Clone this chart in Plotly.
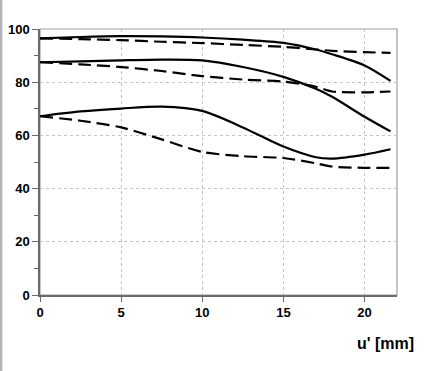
import plotly.graph_objects as go

x_vals = [0, 2.5, 5, 7.5, 10, 12.5, 15, 17, 18, 20, 21.6]

solid_top = [96.5, 97.0, 97.3, 97.2, 96.8, 96.0, 94.8, 92.3, 90.5, 86.3, 80.5]
dashed_top = [96.5, 96.2, 95.8, 95.2, 94.7, 94.0, 93.3, 92.3, 91.8, 91.3, 91.0]
solid_mid = [87.5, 87.8, 88.2, 88.5, 88.2, 85.7, 82.0, 77.5, 74.5, 67.0, 61.5]
dashed_mid = [87.5, 86.7, 85.7, 84.2, 82.3, 81.0, 80.2, 78.3, 76.5, 76.2, 76.5]
solid_low = [67.2, 69.0, 70.1, 70.8, 69.2, 63.0, 55.8, 51.8, 51.3, 52.8, 54.8]
dashed_low = [67.2, 65.5, 63.0, 58.5, 53.8, 52.2, 51.5, 49.5, 48.3, 47.8, 47.8]

x_ticks = [0, 5, 10, 15, 20]
y_ticks = [0, 20, 40, 60, 80, 100]
x_title = "u' [mm]"

FONT = "Arial, Liberation Sans, sans-serif"

fig = go.Figure()
series = [
    (dashed_top, "dash"), (dashed_mid, "dash"), (dashed_low, "dash"),
    (solid_top, "solid"), (solid_mid, "solid"), (solid_low, "solid"),
]
for ys, d in series:
    fig.add_trace(go.Scatter(
        x=x_vals, y=ys, mode="lines",
        line=dict(color="black", width=2.2, dash="13px,6px" if d == "dash" else "solid",
                  shape="spline", smoothing=0.8),
        showlegend=False, hoverinfo="skip"))

fig.update_layout(
    width=438, height=371,
    margin=dict(l=40, r=41, t=29, b=76, pad=0),
    paper_bgcolor="white", plot_bgcolor="white",
    font=dict(family=FONT, size=13, color="black"),
    showlegend=False,
)
fig.update_xaxes(
    range=[0, 22], tickvals=x_ticks, ticktext=[str(v) for v in x_ticks],
    automargin=False,
    showline=True, linecolor="#6a6a6a", linewidth=1.5,
    ticks="outside", ticklen=5, tickcolor="#6a6a6a", tickwidth=1,
    showgrid=True, gridcolor="#c4c4c4", griddash="dot", gridwidth=1,
    zeroline=False,
    tickfont=dict(family=FONT, size=13, color="black", weight="bold"),
)
fig.update_yaxes(
    range=[0, 100], tickvals=y_ticks, ticktext=[str(v) for v in y_ticks],
    automargin=False,
    showline=True, linecolor="#6a6a6a", linewidth=1.5,
    ticks="outside", ticklen=6, tickcolor="#6a6a6a", tickwidth=1,
    minor=dict(ticks="outside", dtick=10, ticklen=4, tickcolor="#6a6a6a", showgrid=False),
    showgrid=True, gridcolor="#c4c4c4", griddash="dot", gridwidth=1,
    zeroline=False,
    tickfont=dict(family=FONT, size=13, color="black", weight="bold"),
)
# light frame on top/right
fig.add_shape(type="rect", xref="paper", yref="paper", x0=0, x1=1, y0=0, y1=1,
              line=dict(color="#a0a0a0", width=1.2), layer="below")
# outer left border line of the chart area
fig.add_shape(type="line", xref="paper", yref="paper", x0=-0.109, x1=-0.109, y0=-0.3, y1=1.2,
              line=dict(color="#b4b4b4", width=2.5))
fig.add_annotation(text=x_title, xref="paper", yref="paper", x=0.968, y=-0.182,
                   showarrow=False, xanchor="center", yanchor="middle",
                   font=dict(family=FONT, size=16, color="black", weight="bold"))

fig.write_html("out.html", config={"displayModeBar": False},
               post_script="document.body.style.margin='0';document.body.style.overflow='hidden';")
